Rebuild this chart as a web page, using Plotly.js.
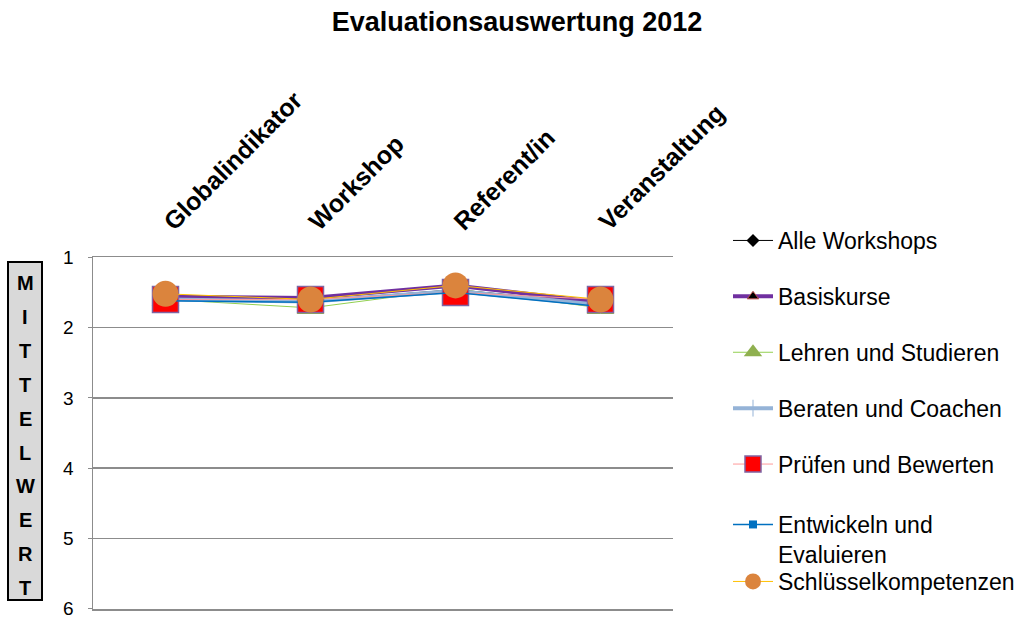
<!DOCTYPE html>
<html>
<head>
<meta charset="utf-8">
<script src="https://cdn.plot.ly/plotly-3.0.1.min.js"></script>
<style>html,body{margin:0;padding:0;background:#fff;}#chart{width:1016px;height:619px;}</style>
</head>
<body>
<div id="chart"></div>
<script>
const categories = ["Globalindikator", "Workshop", "Referent/in", "Veranstaltung"];
const seriesNames = ["Alle Workshops", "Basiskurse", "Lehren und Studieren", "Beraten und Coachen", "Prüfen und Bewerten", "Entwickeln und<br>Evaluieren", "Schlüsselkompetenzen"];
const alleWorkshops = [1.58, 1.62, 1.46, 1.66];
const basiskurse = [1.56, 1.58, 1.40, 1.64];
const lehrenStudieren = [1.60, 1.72, 1.45, 1.72];
const beratenCoachen = [1.60, 1.63, 1.48, 1.68];
const pruefenBewerten = [1.60, 1.60, 1.50, 1.60];
const entwickelnEvaluieren = [1.62, 1.64, 1.50, 1.70];
const schluesselkompetenzen = [1.52, 1.60, 1.40, 1.60];
const yTicks = [1, 2, 3, 4, 5, 6];
const yAxisTitle = "MITTELWERT";
const chartTitle = "Evaluationsauswertung 2012";

const values = [alleWorkshops, basiskurse, lehrenStudieren, beratenCoachen, pruefenBewerten, entwickelnEvaluieren, schluesselkompetenzen];
const styles = [
  {line: {color: "#000000", width: 1}, marker: {symbol: "diamond", size: 10, color: "#000000"}},
  {line: {color: "#7030A0", width: 4}, marker: {symbol: "triangle-up", size: 10, color: "#000000", line: {color: "#C0504D", width: 1}}},
  {line: {color: "#92D050", width: 1}, marker: {symbol: "triangle-up", size: 24, color: "#8FB04F"}},
  {line: {color: "#95B3D7", width: 4}, marker: {symbol: "cross-thin-open", size: 12, color: "#95B3D7", line: {color: "#95B3D7", width: 1}}},
  {line: {color: "#FF9999", width: 1}, marker: {symbol: "square", size: 26, color: "#FF0000", line: {color: "#8064A2", width: 1.5}}},
  {line: {color: "#0070C0", width: 1.5}, marker: {symbol: "square", size: 8, color: "#0070C0"}},
  {line: {color: "#FFC000", width: 1}, marker: {symbol: "circle", size: 26, color: "#DB843D"}}
];
const legendOf = ["legend", "legend", "legend", "legend", "legend", "legend3", "legend2"];

const traces = values.map((v, i) => ({
  type: "scatter", mode: "lines+markers",
  x: categories, y: v, name: seriesNames[i],
  legendgroup: "g" + i,
  legend: legendOf[i],
  line: styles[i].line, marker: styles[i].marker
}));

// pixel helpers for plot area
const W = 1016, H = 619;
const L = 93, R = 673, T = 257, B = 609;
const px = x => (x - L) / (R - L);
const py = y => (B - y) / (B - T);

const annotations = yAxisTitle.split("").map((ch, i) => ({
  xref: "paper", yref: "paper", x: px(25), y: py(283 + i * 33.9),
  xanchor: "center", yanchor: "middle", showarrow: false,
  text: ch, font: {family: "Arial, Liberation Sans, sans-serif", size: 20, color: "#000", weight: "bold"}
}));

const legendBase = {xref: "container", yref: "container", xanchor: "left", yanchor: "top",
  font: {size: 23, color: "#000"}, tracegroupgap: 23, itemwidth: 40, bgcolor: "rgba(0,0,0,0)", valign: "top"};

const layout = {
  width: W, height: H,
  paper_bgcolor: "#ffffff", plot_bgcolor: "#ffffff",
  margin: {l: L, r: W - R, t: T, b: H - B, pad: 0, autoexpand: false},
  title: {text: "<b>" + chartTitle + "</b>", x: 517 / W, xanchor: "center", xref: "container", y: 1 - 22 / H, yref: "container", yanchor: "middle",
    font: {family: "Arial, Liberation Sans, sans-serif", size: 27, color: "#000"}},
  font: {family: "Arial, Liberation Sans, sans-serif", color: "#000"},
  xaxis: {type: "category", side: "top", range: [-0.5, 3.5], tickangle: -45, showgrid: false,
    showline: true, mirror: true, linecolor: "#8c8c8c", linewidth: 1.5, ticks: "",
    tickfont: {size: 25, color: "#000", weight: "bold"}, ticklabelstandoff: 10, fixedrange: true},
  yaxis: {range: [6.004, 0.996], tickvals: yTicks, showgrid: true, gridcolor: "#8c8c8c", gridwidth: 1.5,
    showline: true, linecolor: "#8c8c8c", linewidth: 1.5, ticks: "outside", ticklen: 4, tickcolor: "#8c8c8c",
    zeroline: false, tickfont: {size: 19, color: "#000"}, ticklabelstandoff: 10, ticklabeloverflow: "allow", fixedrange: true},
  legend: Object.assign({}, legendBase, {x: 728 / W, y: 1 - 219 / H}),
  legend3: Object.assign({}, legendBase, {x: 728 / W, y: 1 - 503 / H}),
  legend2: Object.assign({}, legendBase, {x: 728 / W, y: 1 - 560 / H}),
  shapes: [{type: "rect", xref: "paper", yref: "paper", x0: px(8), x1: px(42), y0: py(262), y1: py(600),
    fillcolor: "#D9D9D9", line: {color: "#000", width: 2}, layer: "below"}],
  annotations: annotations,
  showlegend: true
};

Plotly.newPlot("chart", traces, layout, {displayModeBar: false, staticPlot: true});
</script>
</body>
</html>
